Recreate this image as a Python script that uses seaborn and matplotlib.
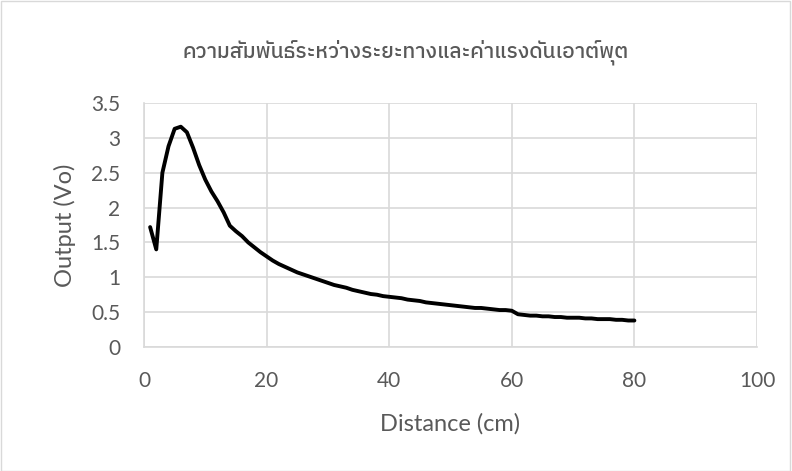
import pandas as pd
import seaborn as sns
import matplotlib.pyplot as plt

# Данные: расстояние (см) и выходное напряжение (В)
distance = list(range(1, 81))
output = [1.72, 1.40, 2.50, 2.88, 3.13, 3.16, 3.08, 2.86, 2.61, 2.40,
          2.23, 2.09, 1.93, 1.74, 1.66, 1.59, 1.50, 1.43, 1.36, 1.30,
          1.24, 1.19, 1.15, 1.11, 1.07, 1.04, 1.01, 0.98, 0.95, 0.92,
          0.89, 0.87, 0.85, 0.82, 0.80, 0.78, 0.76, 0.75, 0.73, 0.72,
          0.71, 0.70, 0.68, 0.67, 0.66, 0.64, 0.63, 0.62, 0.61, 0.60,
          0.59, 0.58, 0.57, 0.56, 0.56, 0.55, 0.54, 0.53, 0.53, 0.52,
          0.47, 0.46, 0.45, 0.45, 0.44, 0.44, 0.43, 0.43, 0.42, 0.42,
          0.42, 0.41, 0.41, 0.40, 0.40, 0.40, 0.39, 0.39, 0.38, 0.38]
x_ticks = [0, 20, 40, 60, 80, 100]
y_ticks = [0, 0.5, 1, 1.5, 2, 2.5, 3, 3.5]
y_labels = ['0', '0.5', '1', '1.5', '2', '2.5', '3', '3.5']
title = 'ความสัมพันธ์ระหว่างระยะทางและค่าแรงดันเอาต์พุต'

df = pd.DataFrame({'distance': distance, 'output': output})

sns.set_style('white')
plt.rcParams['font.family'] = ['Lato', 'IBM Plex Sans Thai', 'DejaVu Sans']

fig = plt.figure(figsize=(7.92, 4.71), dpi=100)
ax = fig.add_axes([144 / 792, 1 - 347 / 471, (757 - 144) / 792, (347 - 103) / 471])

sns.lineplot(x='distance', y='output', data=df, ax=ax, color='black', linewidth=2.8,
             solid_joinstyle='round', solid_capstyle='round')

ax.set_xlim(0, 100)
ax.set_ylim(0, 3.5)
ax.set_xticks(x_ticks)
ax.set_yticks(y_ticks)
ax.set_yticklabels(y_labels)
ax.grid(True, color='#d9d9d9', linewidth=1.2)
for s in ['top', 'right']:
    ax.spines[s].set_visible(False)
for s in ['left', 'bottom']:
    ax.spines[s].set_color('#d9d9d9')
    ax.spines[s].set_linewidth(1.2)
ax.tick_params(colors='#595959', labelsize=15, length=0)
ax.tick_params(axis='x', pad=17)
ax.tick_params(axis='y', pad=17)
ax.set_xlabel('Distance (cm)', fontsize=17, color='#595959', labelpad=16)
ax.set_ylabel('Output (Vo)', fontsize=17, color='#595959', labelpad=11)

fig.text(406 / 792, 1 - 52 / 471, title, ha='center', va='center', fontsize=15,
         color='#595959', fontweight='medium', family=['IBM Plex Sans Thai', 'DejaVu Sans'])

fig.patches.append(plt.Rectangle((0.001, 0.001), 0.997, 0.997, transform=fig.transFigure,
                                 fill=False, edgecolor='#d9d9d9', linewidth=1))

fig.savefig('out.png', dpi=100)
